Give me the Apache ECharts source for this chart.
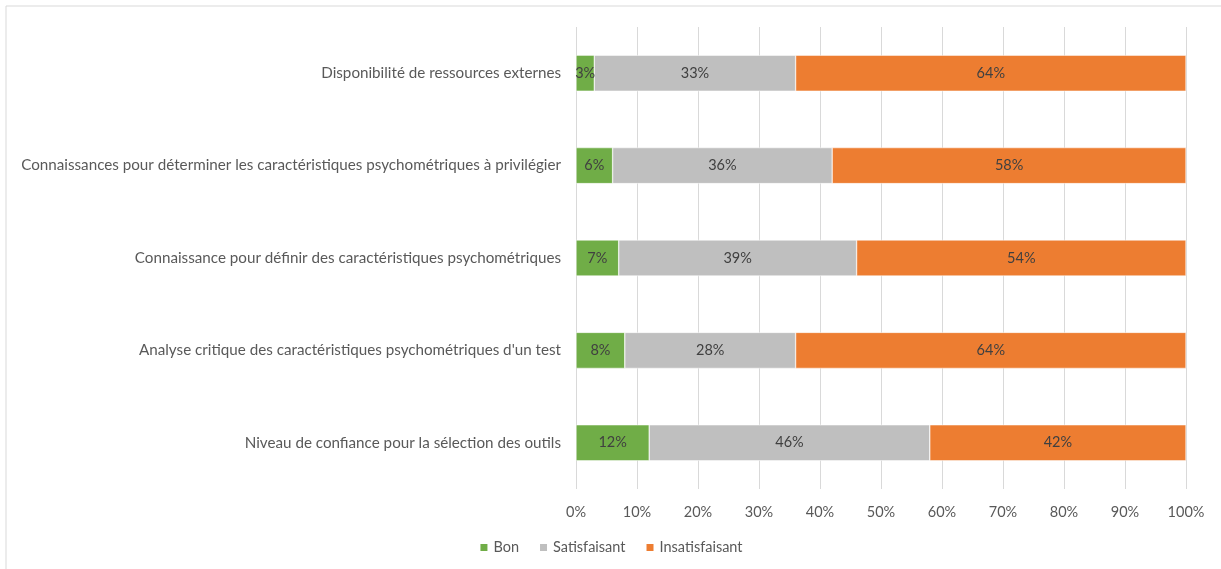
<!DOCTYPE html>
<html><head><meta charset="utf-8">
<script src="https://cdn.jsdelivr.net/npm/echarts@6/dist/echarts.min.js"></script>
<style>html,body{margin:0;padding:0;background:#fff}#c{width:1221px;height:569px}</style>
</head><body><div id="c"></div>
<script>
const categories = [
  "Niveau de confiance pour la sélection des outils",
  "Analyse critique des caractéristiques psychométriques d'un test",
  "Connaissance pour définir des caractéristiques psychométriques",
  "Connaissances pour déterminer les caractéristiques psychométriques à privilégier",
  "Disponibilité de ressources externes"
];
const bon = [12, 8, 7, 6, 3];
const satisfaisant = [46, 28, 39, 36, 33];
const insatisfaisant = [42, 64, 54, 58, 64];
const seriesNames = ["Bon", "Satisfaisant", "Insatisfaisant"];
const colors = ["#70AD47", "#BFBFBF", "#ED7D31"];
const font = "Lato";
const chart = echarts.init(document.getElementById('c'));
function mk(name, data, color) {
  return {
    name, type: 'bar', stack: 'all', data, barCategoryGap: '61%',
    itemStyle: {color, borderColor: '#fff', borderWidth: 0.5},
    label: {show: true, position: 'inside', formatter: p => p.value + '%', color: '#404040', fontFamily: font, fontSize: 14.5}
  };
}
chart.setOption({
  animation: false,
  textStyle: {fontFamily: font},
  graphic: [{type: 'rect', shape: {x: 6, y: 6, width: 1400, height: 800}, style: {fill: 'none', stroke: '#d9d9d9', lineWidth: 1}, silent: true}],
  grid: {left: 576, right: 35, top: 27, bottom: 80, containLabel: false},
  legend: {bottom: 9, left: 'center', itemWidth: 9, itemHeight: 9, itemGap: 19, icon: 'rect',
    textStyle: {color: '#595959', fontSize: 14.5, fontFamily: font}, data: seriesNames},
  xAxis: {type: 'value', min: 0, max: 100, interval: 10,
    axisLabel: {formatter: '{value}%', color: '#595959', fontSize: 14.5, fontFamily: font, margin: 16},
    splitLine: {lineStyle: {color: '#d9d9d9', width: 1}}, axisLine: {show: false}, axisTick: {show: false}},
  yAxis: {type: 'category', data: categories,
    axisLabel: {color: '#595959', fontSize: 15.2, fontFamily: font, margin: 15},
    axisLine: {show: false}, axisTick: {show: false}},
  series: [mk(seriesNames[0], bon, colors[0]), mk(seriesNames[1], satisfaisant, colors[1]), mk(seriesNames[2], insatisfaisant, colors[2])]
});
</script></body></html>
